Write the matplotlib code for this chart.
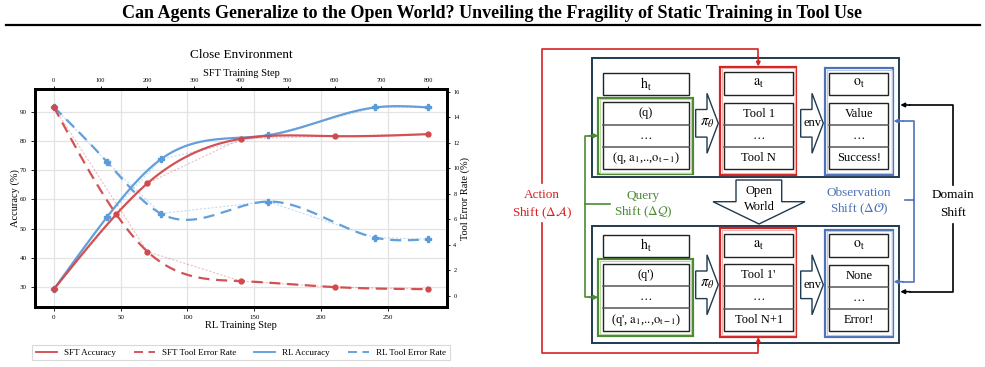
import numpy as np
import matplotlib
matplotlib.use("Agg")
import matplotlib.pyplot as plt
from matplotlib.patches import Rectangle, Polygon
from matplotlib.lines import Line2D

plt.rcParams['font.family'] = ['Liberation Serif', 'DejaVu Serif']
plt.rcParams['mathtext.fontset'] = 'stix'

# data
sft_steps = [0, 134, 200, 400, 600, 800]
sft_acc = [29.3, 55.0, 65.5, 80.7, 81.6, 82.3]
sft_err_steps = [0, 200, 400, 600, 800]
sft_err = [14.8, 3.45, 1.13, 0.66, 0.5]
rl_steps = [0, 40, 80, 160, 240, 280]
rl_acc = [29.3, 54.1, 73.7, 81.9, 91.4, 91.4]
rl_err = [14.8, 10.46, 6.43, 7.37, 4.55, 4.42]

rl_ticks = [0, 50, 100, 150, 200, 250]
sft_ticks = [0, 100, 200, 300, 400, 500, 600, 700, 800]
acc_ticks = [30, 40, 50, 60, 70, 80, 90]
err_ticks = [0, 2, 4, 6, 8, 10, 12, 14, 16]

RED = '#d0494c'
BLUE = '#5b9bd9'


def smooth(x, y, n=300):
    # natural cubic spline through the points
    x = np.asarray(x, float)
    y = np.asarray(y, float)
    k = len(x)
    h = np.diff(x)
    A = np.zeros((k, k))
    b = np.zeros(k)
    A[0, 0] = 1
    A[-1, -1] = 1
    for i in range(1, k - 1):
        A[i, i - 1] = h[i - 1]
        A[i, i] = 2 * (h[i - 1] + h[i])
        A[i, i + 1] = h[i]
        b[i] = 3 * ((y[i + 1] - y[i]) / h[i] - (y[i] - y[i - 1]) / h[i - 1])
    c = np.linalg.solve(A, b)
    xs = np.linspace(x[0], x[-1], n)
    idx = np.clip(np.searchsorted(x, xs) - 1, 0, k - 2)
    dx = xs - x[idx]
    bb = (y[idx + 1] - y[idx]) / h[idx] - h[idx] * (2 * c[idx] + c[idx + 1]) / 3
    d = (c[idx + 1] - c[idx]) / (3 * h[idx])
    return xs, y[idx] + bb * dx + c[idx] * dx ** 2 + d * dx ** 3


def draw_series(a, x, y, color, ls, marker, ms):
    xs, ys = smooth(x, y)
    a.plot(x, y, color=color, lw=0.8, ls=(0, (2, 1.5)), alpha=0.35)
    a.plot(xs, ys, color=color, lw=1.6, ls=ls, alpha=0.95)
    a.plot(x, y, ls='none', marker=marker, color=color, ms=ms)


fig = plt.figure(figsize=(9.85, 3.67), dpi=100)

ax = fig.add_axes([35 / 985, 1 - 307 / 367, 412 / 985, 218 / 367])
axr = ax.twinx()
axt = ax.twiny()
axtr = axt.twinx()

rl_lim = (-14, 294)
sft_lim = (rl_lim[0] * 800 / 280, rl_lim[1] * 800 / 280)
acc_lim = (23.3, 97.7)
err_lim = (-0.9, 16.2)

ax.set_xlim(rl_lim)
axr.set_xlim(rl_lim)
axt.set_xlim(sft_lim)
axtr.set_xlim(sft_lim)
ax.set_ylim(acc_lim)
axt.set_ylim(acc_lim)
axr.set_ylim(err_lim)
axtr.set_ylim(err_lim)

draw_series(ax, rl_steps, rl_acc, BLUE, '-', 'P', 4.5)
draw_series(axr, rl_steps, rl_err, BLUE, (0, (5, 3)), 'P', 4.5)
draw_series(axt, sft_steps, sft_acc, RED, '-', 'o', 3.5)
draw_series(axtr, sft_err_steps, sft_err, RED, (0, (5, 3)), 'o', 3.5)

ax.set_xticks(rl_ticks)
ax.set_yticks(acc_ticks)
axt.set_xticks(sft_ticks)
axr.set_yticks(err_ticks)
axtr.yaxis.set_visible(False)
ax.grid(True, color='#e3e3e3', lw=0.9)
ax.set_axisbelow(True)

for a in (ax, axr, axt, axtr):
    for s in a.spines.values():
        s.set_linewidth(1.8)
        s.set_color('black')
ax.tick_params(axis='both', labelsize=5, length=3, width=0.6, pad=3)
axt.tick_params(axis='x', labelsize=4.5, length=2.5, width=0.6, pad=2)
axr.tick_params(axis='y', labelsize=4.5, length=2.5, width=0.6, pad=2)

ax.set_xlabel('RL Training Step', fontsize=7.5)
ax.xaxis.set_label_coords(0.5, -(325 - 307) / 218)
ax.xaxis.label.set_va('center')
ax.set_ylabel('Accuracy (%)', fontsize=7.5)
ax.yaxis.set_label_coords(-(35 - 15) / 412, 0.5)
ax.yaxis.label.set_va('center')
axr.set_ylabel('Tool Error Rate (%)', fontsize=7.5)
axr.yaxis.set_label_coords(1 + (465 - 447) / 412, 0.5)
axr.yaxis.label.set_va('center')
axt.set_xlabel('SFT Training Step', fontsize=7.5)
axt.xaxis.set_label_coords(0.5, 1 + (89 - 73.3) / 218)
axt.xaxis.label.set_va('center')
fig.text(241 / 985, 1 - 55 / 367, 'Close Environment', ha='center', va='center', fontsize=9.5)

handles = [
    Line2D([], [], color=RED, lw=1.3, ls='-'),
    Line2D([], [], color=RED, lw=1.3, ls=(0, (5, 3))),
    Line2D([], [], color=BLUE, lw=1.3, ls='-'),
    Line2D([], [], color=BLUE, lw=1.3, ls=(0, (5, 3))),
]
labels = ['SFT Accuracy', 'SFT Tool Error Rate', 'RL Accuracy', 'RL Tool Error Rate']
leg = fig.legend(handles, labels, ncol=4, loc='center', bbox_to_anchor=(241 / 985, 1 - 352.5 / 367),
                 fontsize=6.5, frameon=True, handlelength=2.3, columnspacing=2.0, borderpad=0.4,
                 fancybox=False, edgecolor='#d0d0d0')
leg.get_frame().set_linewidth(0.8)

fig.text(0.5, 1 - 13 / 367,
         'Can Agents Generalize to the Open World? Unveiling the Fragility of Static Training in Tool Use',
         ha='center', va='center', fontsize=13, fontweight='bold')

# diagram on the right, in pixel coordinates
d = fig.add_axes([0, 0, 1, 1])
d.set_xlim(0, 985)
d.set_ylim(367, 0)
d.axis('off')
d.patch.set_visible(False)

d.plot([6, 980], [25, 25], color='black', lw=1.6)

NAVY = '#203a4f'
DRED = '#d42424'
GREEN = '#4d8a34'
DBLUE = '#4f73b8'
FS = 9


def rect(x0, y0, x1, y1, ec, lw, z=2):
    d.add_patch(Rectangle((x0, y0), x1 - x0, y1 - y0, fill=False, edgecolor=ec, lw=lw, zorder=z))


def framed(x0, y0, x1, y1, ec, light):
    rect(x0, y0, x1, y1, ec, 1.6)
    rect(x0 + 1.6, y0 + 1.6, x1 - 1.6, y1 - 1.6, light, 0.8)


def label_box(x0, y0, x1, y1, text):
    d.add_patch(Rectangle((x0, y0), x1 - x0, y1 - y0, facecolor='white', edgecolor='#222222', lw=1.0, zorder=3))
    d.text((x0 + x1) / 2, (y0 + y1) / 2, text, ha='center', va='center', fontsize=FS + 1, zorder=5)


def table(x0, y0, x1, y1, texts):
    d.add_patch(Rectangle((x0, y0), x1 - x0, y1 - y0, facecolor='white', edgecolor='#222222', lw=1.0, zorder=3))
    rh = (y1 - y0) / 3
    for i in (1, 2):
        d.plot([x0, x1], [y0 + i * rh, y0 + i * rh], color='#555555', lw=1.1, zorder=4)
    for i, t in enumerate(texts):
        d.text((x0 + x1) / 2, y0 + (i + 0.5) * rh, t, ha='center', va='center', fontsize=FS, zorder=5)


def right_arrow(x0, x1, cy, label, fs):
    xh = x0 + (x1 - x0) * 0.5
    pts = [(x0, cy - 13.8), (xh, cy - 13.8), (xh, cy - 30), (x1, cy), (xh, cy + 30), (xh, cy + 13.8), (x0, cy + 13.8)]
    d.add_patch(Polygon(pts, closed=True, facecolor='white', edgecolor=NAVY, lw=1.0, zorder=3))
    d.text((x0 + x1) / 2 + 0.5, cy, label, ha='center', va='center', fontsize=fs, zorder=5)


def panel(oy0, oy1, dy, q_texts, a_texts, o_texts):
    rect(591.7, oy0, 899.3, oy1, NAVY, 1.4)
    label_box(603.3, 73.3 + dy, 688.7, 95 + dy, r'$\mathrm{h_t}$')
    framed(598.3, 97.7 + dy, 692.7, 174.3 + dy, GREEN, '#b9d8a6')
    table(603.3, 102.3 + dy, 688.7, 169.3 + dy, q_texts)
    right_arrow(695.7, 718.3, 123.3 + dy, r'$\pi_\theta$', FS + 1.5)
    framed(720, 66.7 + dy, 796.3, 175 + dy, DRED, '#f2b3b3')
    label_box(724, 72.3 + dy, 793.3, 95 + dy, r'$\mathrm{a_t}$')
    table(724, 102.7 + dy, 793.3, 169.3 + dy, a_texts)
    right_arrow(800.7, 823.3, 123.3 + dy, 'env', FS)
    framed(825, 68.3 + dy, 893.3, 175 + dy, DBLUE, '#b7c8e8')
    label_box(829.3, 72.7 + dy, 888.3, 95 + dy, r'$\mathrm{o_t}$')
    table(829.3, 103.3 + dy, 888.3, 169.3 + dy, o_texts)


panel(58.3, 176.7, 0,
      ['(q)', '…', r'(q, $\mathrm{a_1}$,..,$\mathrm{o_{t-1}}$)'],
      ['Tool 1', '…', 'Tool N'],
      ['Value', '…', 'Success!'])
panel(226, 343.3, 161.5,
      ["(q')", '…', r"(q', $\mathrm{a_1}$,..,$\mathrm{o_{t-1}}$)"],
      ["Tool 1'", '…', 'Tool N+1'],
      ['None', '…', 'Error!'])

# open world arrow
ow = [(736, 180), (781.7, 180), (781.7, 201.7), (805, 201.7), (759, 224), (713, 201.7), (736, 201.7)]
d.add_patch(Polygon(ow, closed=True, facecolor='white', edgecolor=NAVY, lw=1.0, zorder=3))
d.text(759, 191, 'Open', ha='center', va='center', fontsize=FS)
d.text(759, 206.5, 'World', ha='center', va='center', fontsize=FS)


def arrow(x0, y0, x1, y1, color):
    d.annotate('', xy=(x1, y1), xytext=(x0, y0),
               arrowprops=dict(arrowstyle='-|>', color=color, lw=1.2, mutation_scale=6, shrinkA=0, shrinkB=0))


# action shift (red)
d.plot([541.7, 541.7, 758.3, 758.3], [183, 49.3, 49.3, 58], color=DRED, lw=1.2)
arrow(758.3, 57, 758.3, 66.5, DRED)
d.plot([541.7, 541.7, 758.3, 758.3], [223, 353.3, 353.3, 345], color=DRED, lw=1.2)
arrow(758.3, 346, 758.3, 337, DRED)
d.text(541.7, 195, 'Action', ha='center', va='center', fontsize=FS + 0.5, color=DRED)
d.text(541.7, 212.5, r'Shift ($\Delta\mathcal{A}$)', ha='center', va='center', fontsize=FS + 0.5, color=DRED)

# query shift (green)
d.plot([590, 585, 585, 590], [135.7, 135.7, 297.3, 297.3], color=GREEN, lw=1.2)
d.plot([585, 610], [204, 204], color=GREEN, lw=1.2)
arrow(589, 135.7, 598.3, 135.7, GREEN)
arrow(589, 297.3, 598.3, 297.3, GREEN)
d.text(643.3, 196, 'Query', ha='center', va='center', fontsize=FS + 0.5, color=GREEN)
d.text(643.3, 212.5, r'Shift ($\Delta\mathcal{Q}$)', ha='center', va='center', fontsize=FS + 0.5, color=GREEN)

# observation shift (blue)
d.plot([903, 914, 914, 903], [121, 121, 281.7, 281.7], color=DBLUE, lw=1.2)
d.plot([914, 905], [200, 200], color=DBLUE, lw=1.2)
arrow(903, 121, 893.6, 121, DBLUE)
arrow(903, 281.7, 893.6, 281.7, DBLUE)
d.text(859.3, 193, 'Observation', ha='center', va='center', fontsize=FS + 0.5, color=DBLUE)
d.text(859.3, 209.5, r'Shift ($\Delta\mathcal{O}$)', ha='center', va='center', fontsize=FS + 0.5, color=DBLUE)

# domain shift (black)
d.plot([910, 953.3, 953.3], [105, 105, 185], color='black', lw=1.2)
d.plot([953.3, 953.3, 910], [224, 291.7, 291.7], color='black', lw=1.2)
arrow(910, 105, 900.3, 105, 'black')
arrow(910, 291.7, 900.3, 291.7, 'black')
d.text(953.3, 195, 'Domain', ha='center', va='center', fontsize=FS + 0.5)
d.text(953.3, 212.5, 'Shift', ha='center', va='center', fontsize=FS + 0.5)

fig.savefig('out.png', dpi=100)
